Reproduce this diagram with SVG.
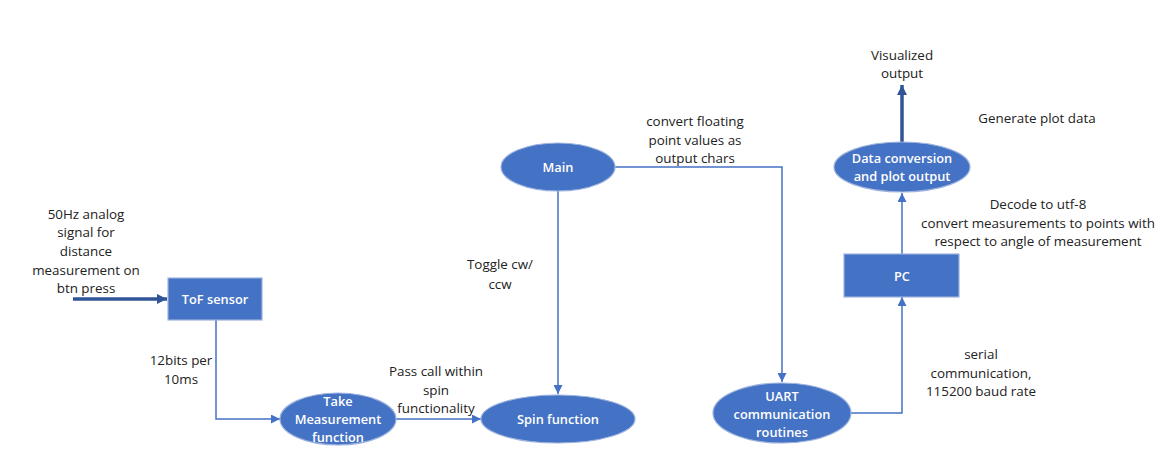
<svg xmlns="http://www.w3.org/2000/svg" width="1172" height="458" viewBox="0 0 1172 458">
<style>
.node{fill:#4472C4;stroke:#9DB3DE;stroke-width:1.2}
.nt{font-family:"Open Sans","Liberation Sans",sans-serif;font-size:12.8px;font-weight:600;fill:#fff;text-anchor:middle;dominant-baseline:central}
.lbl{font-family:"Open Sans","Liberation Sans",sans-serif;font-size:13.4px;fill:#222;text-anchor:middle;dominant-baseline:central}
.con{fill:none;stroke:#4472C4;stroke-width:1.5}
.thick{fill:none;stroke:#2F5597;stroke-width:3.5}
</style>
<defs>
<marker id="ah" viewBox="0 0 10 10" refX="10" refY="5" markerWidth="9" markerHeight="9" markerUnits="userSpaceOnUse" orient="auto">
<path d="M0,0 L10,5 L0,10 z" fill="#4472C4"/>
</marker>
<marker id="ahT" viewBox="0 0 10 10" refX="10" refY="5" markerWidth="10" markerHeight="10" markerUnits="userSpaceOnUse" orient="auto">
<path d="M0,0 L10,5 L0,10 z" fill="#2F5597"/>
</marker>
</defs>
<rect width="1172" height="458" fill="#fff"/>
<g id="connectors">
<path class="thick" d="M73,299 L167,299" marker-end="url(#ahT)"/>
<path class="con" d="M216,320 L216,419 L280,419" marker-end="url(#ah)"/>
<path class="con" d="M396,419 L481,419" marker-end="url(#ah)"/>
<path class="con" d="M558,191 L558,394" marker-end="url(#ah)"/>
<path class="con" d="M615,167 L782,167 L782,382" marker-end="url(#ah)"/>
<path class="con" d="M851,413 L902,413 L902,297" marker-end="url(#ah)"/>
<path class="con" d="M902,254 L902,193" marker-end="url(#ah)"/>
<path class="thick" d="M902,142 L902,85" marker-end="url(#ahT)"/>
</g>
<g id="tof"><rect class="node" x="168" y="278" width="94" height="42"/><text class="nt" x="215" y="299">ToF sensor</text></g>
<g id="take"><ellipse class="node" cx="338" cy="419" rx="58" ry="26"/><text class="nt" x="338" y="401">Take</text><text class="nt" x="338" y="419">Measurement</text><text class="nt" x="338" y="437">function</text></g>
<g id="spin"><ellipse class="node" cx="558" cy="419" rx="77" ry="24"/><text class="nt" x="558" y="419">Spin function</text></g>
<g id="main"><ellipse class="node" cx="558" cy="167" rx="57" ry="24"/><text class="nt" x="558" y="167">Main</text></g>
<g id="uart"><ellipse class="node" cx="782" cy="413" rx="69" ry="30"/><text class="nt" x="782" y="396">UART</text><text class="nt" x="782" y="414">communication</text><text class="nt" x="782" y="432">routines</text></g>
<g id="pc"><rect class="node" x="844" y="254" width="115" height="43"/><text class="nt" x="902" y="276">PC</text></g>
<g id="data"><ellipse class="node" cx="902" cy="167" rx="68" ry="25"/><text class="nt" x="902" y="158">Data conversion</text><text class="nt" x="902" y="176">and plot output</text></g>
<g id="labels">
<text class="lbl" x="86" y="214">50Hz analog</text>
<text class="lbl" x="86" y="232">signal for</text>
<text class="lbl" x="86" y="251">distance</text>
<text class="lbl" x="86" y="270">measurement on</text>
<text class="lbl" x="86" y="288">btn press</text>
<text class="lbl" x="181" y="360">12bits per</text>
<text class="lbl" x="181" y="379">10ms</text>
<text class="lbl" x="436" y="371">Pass call within</text>
<text class="lbl" x="436" y="390">spin</text>
<text class="lbl" x="436" y="408">functionality</text>
<text class="lbl" x="500" y="264">Toggle cw/</text>
<text class="lbl" x="500" y="284">ccw</text>
<text class="lbl" x="695" y="121">convert floating</text>
<text class="lbl" x="695" y="140">point values as</text>
<text class="lbl" x="695" y="158">output chars</text>
<text class="lbl" x="902" y="55">Visualized</text>
<text class="lbl" x="902" y="73">output</text>
<text class="lbl" x="1037" y="118">Generate plot data</text>
<text class="lbl" x="1038" y="204">Decode to utf-8</text>
<text class="lbl" x="1038" y="223">convert measurements to points with</text>
<text class="lbl" x="1038" y="241">respect to angle of measurement</text>
<text class="lbl" x="981" y="354">serial</text>
<text class="lbl" x="981" y="373">communication,</text>
<text class="lbl" x="981" y="391">115200 baud rate</text>
</g>
</svg>
